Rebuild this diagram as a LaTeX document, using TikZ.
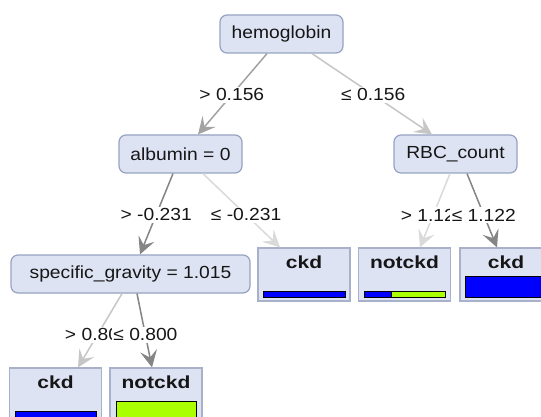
\documentclass[tikz,border=0pt]{standalone}
\usepackage{fontspec}
\setmainfont{Liberation Sans}[FakeStretch=1.1]
\newfontfamily\leaffont{Liberation Sans Bold}[FakeStretch=1.2]
\usetikzlibrary{arrows.meta}
\definecolor{nfill}{HTML}{DDE3F3}
\definecolor{nborder}{HTML}{98A3C3}
\definecolor{lborder}{HTML}{A9B1CA}
\definecolor{txt}{HTML}{161616}
\definecolor{egdark}{HTML}{858585}
\definecolor{egmed}{HTML}{A3A3A3}
\definecolor{eglight}{HTML}{C6C6C6}
\definecolor{egvlight}{HTML}{DADADA}
\definecolor{barblue}{HTML}{0000FF}
\definecolor{bargreen}{HTML}{AAFF00}
\tikzset{
  inner/.style={draw=nborder, fill=nfill, line width=1.2pt, rounded corners=7pt,
    minimum height=38pt, minimum width=123pt, inner sep=0pt, text=txt,
    font=\fontsize{17.5}{20}\selectfont},
  leafbox/.style={draw=lborder, fill=nfill, line width=1.2pt, minimum width=92pt,
    minimum height=53pt, inner sep=0pt},
  leaftitle/.style={inner sep=0pt, text=txt, font=\leaffont\fontsize{17.5}{20}\selectfont},
  elabel/.style={fill=white, inner sep=1.5pt, text=txt, font=\fontsize{17.5}{20}\selectfont},
  edge/.style={line width=1.5pt, -{Stealth[length=17pt, width=17pt, inset=7pt]}},
  bar/.style={draw=black, line width=1pt},
}
\begin{document}
\begin{tikzpicture}[x=1pt, y=-1pt]
\clip (0,0) rectangle (541,417);
\fill[white] (0,0) rectangle (541,417);

% inner nodes
\node[inner] (hemo) at (281.5,34) {hemoglobin};
\node[inner] (alb) at (180.5,154) {albumin = 0};
\node[inner] (rbc) at (455.5,154) {RBC\_count};
\node[inner, minimum width=239pt] (spec) at (130.5,274) {specific\_gravity = 1.015};

% leaves
\node[leafbox] (lf1) at (304,274.5) {};
\node[leaftitle] (lf1t) at (304,262) {ckd};
\node[leafbox] (lf2) at (404.5,274.5) {};
\node[leaftitle] (lf2t) at (404.5,262) {notckd};
\node[leafbox] (lf3) at (506,274.5) {};
\node[leaftitle] (lf3t) at (506,262) {ckd};
\node[leafbox] (lf4) at (55.5,394.5) {};
\node[leaftitle] (lf4t) at (55.5,382) {ckd};
\node[leafbox] (lf5) at (156,394.5) {};
\node[leaftitle] (lf5t) at (156,382) {notckd};

% bars
\filldraw[bar, fill=barblue] (263,291) rectangle (345,297);
\filldraw[bar, fill=barblue] (364,291) rectangle (391,297);
\filldraw[bar, fill=bargreen] (391,291) rectangle (445,297);
\filldraw[bar, fill=barblue] (465,276) rectangle (547,297);
\filldraw[bar, fill=barblue] (15,411) rectangle (96,417);
\filldraw[bar, fill=bargreen] (116,401) rectangle (196,417);

% edges
\draw[edge, draw=egmed, fill=egmed] ([xshift=-14.5pt]hemo.south) -- node[elabel, pos=0.51] {> 0.156} ([xshift=17.5pt]alb.north);
\draw[edge, draw=eglight, fill=eglight] ([xshift=30.5pt]hemo.south) -- node[elabel, pos=0.51] {≤ 0.156} ([xshift=-23.5pt]rbc.north);
\draw[edge, draw=egdark, fill=egdark] ([xshift=-7.5pt]alb.south) -- node[elabel, pos=0.51] {> -0.231} ([xshift=9.5pt]spec.north);
\draw[edge, draw=egvlight, fill=egvlight] ([xshift=22.5pt]alb.south) -- node[elabel, pos=0.56] {≤ -0.231} ([xshift=-24pt]lf1.north);
\draw[edge, draw=egvlight, fill=egvlight] ([xshift=-5.5pt]rbc.south) -- node[elabel, pos=0.56] {> 1.122} ([xshift=15.5pt]lf2.north);
\draw[edge, draw=egdark, fill=egdark] ([xshift=11.5pt]rbc.south) -- node[elabel, pos=0.56] {≤ 1.122} ([xshift=-9pt]lf3.north);
\draw[edge, draw=eglight, fill=eglight] ([xshift=-8.5pt]spec.south) -- node[elabel, pos=0.56] {> 0.800} ([xshift=22.5pt]lf4.north);
\draw[edge, draw=egdark, fill=egdark] ([xshift=6.5pt]spec.south) -- node[elabel, pos=0.56] {≤ 0.800} ([xshift=-4pt]lf5.north);
\end{tikzpicture}
\end{document}
